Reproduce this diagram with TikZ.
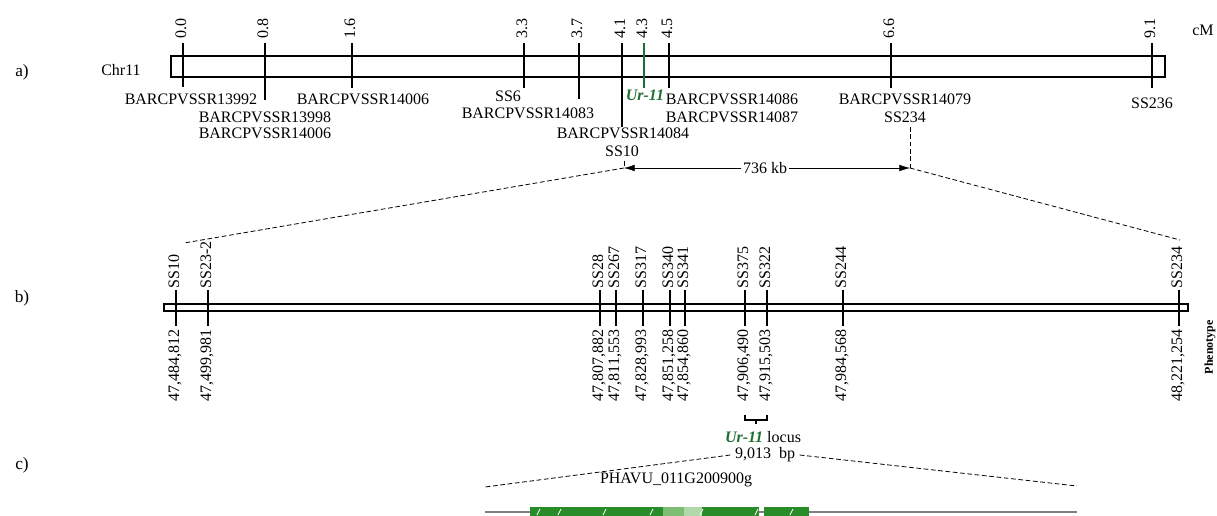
\documentclass[tikz,border=0pt]{standalone}
\usepackage{fontspec}
\setmainfont{Liberation Serif}
\usetikzlibrary{arrows.meta}
\definecolor{urgreen}{RGB}{30,110,50}
\definecolor{exongreen}{RGB}{40,140,40}
\definecolor{utrgreen}{RGB}{125,190,115}
\begin{document}
\begin{tikzpicture}[x=0.75pt,y=-0.75pt,font=\fontsize{12}{14}\selectfont,
    marker/.style={line width=1.6pt},
    chrom/.style={line width=0.8pt},
    guide/.style={dash pattern=on 3.5pt off 2pt,line width=0.6pt},
    vlabel/.style={rotate=90,inner sep=1pt}]
  \useasboundingbox (0,0) rectangle (1217,515);

  % a) linkage map of Chr11
  \node (pa) at (22,72) {\fontsize{13}{15}\selectfont a)};
  \node (chr) at (121,70) {Chr11};
  \draw[chrom] (171,56) rectangle (1165,77);
  \foreach \x/\cm/\y [count=\i] in {183/0.0/87,265/0.8/100,352/1.6/88,524/3.3/88,
      579/3.7/99,622/4.1/127,669/4.5/88,891/6.6/88,1152/9.1/88} {
    \draw[marker] (\x,43) -- (\x,\y);
    \node[vlabel,anchor=mid west] (cm\i) at (\x,40) {\cm};
  }
  \draw[marker,urgreen] (644,43) -- (644,88);
  \node[vlabel,anchor=mid west] (cmur) at (644,40) {4.3};
  \node (unit) at (1203,30) {cM};

  \node (m13992) at (191,99) {BARCPVSSR13992};
  \node (m13998) at (265,117) {BARCPVSSR13998};
  \node (m14006a) at (265,133) {BARCPVSSR14006};
  \node (m14006b) at (363,99) {BARCPVSSR14006};
  \node (ss6) at (508,96) {SS6};
  \node (m14083) at (528,113) {BARCPVSSR14083};
  \node (m14084) at (623,133) {BARCPVSSR14084};
  \node (ss10) at (622,151) {SS10};
  \node[text=urgreen,font=\fontsize{12}{14}\selectfont\bfseries\itshape] (ur) at (645,95) {Ur-11};
  \node (m14086) at (732,99) {BARCPVSSR14086};
  \node (m14087) at (732,117) {BARCPVSSR14087};
  \node (m14079) at (905,99) {BARCPVSSR14079};
  \node (ss234) at (905,117) {SS234};
  \node (ss236) at (1152,103) {SS236};

  % physical interval
  \coordinate (kbL) at (624,168);
  \coordinate (kbR) at (910,168);
  \node[fill=white,inner sep=1pt] (kb) at (765,168) {736 kb};
  \draw[guide] (kbL |- ss10.south) -- (kbL);
  \draw[guide] (kbR |- ss234.south) -- (kbR);
  \draw[-{Latex[length=8pt,width=5pt]}] (kb.west) -- (kbL);
  \draw[-{Latex[length=8pt,width=5pt]}] (kb.east) -- (kbR);
  \coordinate (zl) at (184,243);
  \coordinate (zr) at (1180,240);
  \draw[guide] (kbL) -- (zl);
  \draw[guide] (kbR) -- (zr);

  % b) fine map
  \node (pb) at (22,298) {\fontsize{13}{15}\selectfont b)};
  \draw[chrom] (164,304) rectangle (1188,311);
  \foreach \x/\n/\p [count=\i] in {{176/SS10/47,484,812},{208/SS23-2/47,499,981},
      {600/SS28/47,807,882},{616/SS267/47,811,553},{643/SS317/47,828,993},
      {670/SS340/47,851,258},{685/SS341/47,854,860},{745/SS375/47,906,490},
      {767/SS322/47,915,503},{843/SS244/47,984,568},{1179/SS234/48,221,254}} {
    \draw[marker] (\x,290) -- (\x,326);
    \node[vlabel,anchor=mid west] (mk\i) at (\x,290) {\n};
    \node[vlabel,anchor=mid east] (pos\i) at (\x,328) {\p};
  }
  \node[vlabel,font=\fontsize{9}{10}\selectfont\bfseries] (pheno) at (1210,347) {Phenotype};

  % c) candidate gene
  \node (pc) at (22,465) {\fontsize{13}{15}\selectfont c)};
  \draw[chrom] (745,415) -- (745,420) -- (767,420) -- (767,415) (756,420) -- (756,424);
  \node (locus) at (763,437) {\textcolor{urgreen}{\bfseries\itshape Ur-11} locus};
  \node (bpsize) at (765,455) {9,013~~bp};
  \coordinate (gl) at (485,487);
  \coordinate (gr) at (1077,486);
  \draw[guide] (bpsize.west) -- (gl);
  \draw[guide] (bpsize.east) -- (gr);
  \node (gene) at (676,480) {PHAVU\_011G200900g};
  \draw[gray,line width=0.8pt] (485,512) -- (1077,512);
  \fill[exongreen] (530,507) rectangle (663,520);
  \fill[utrgreen] (663,507) rectangle (684,520);
  \fill[utrgreen!60] (684,507) rectangle (702,520);
  \fill[exongreen] (702,507) rectangle (759,520);
  \fill[exongreen] (764,507) rectangle (809,520);
  \foreach \x in {537,558,603,650,700,755,790}
    \draw[white,line width=0.6pt] (\x,515) -- (\x+3,509);
\end{tikzpicture}
\end{document}
